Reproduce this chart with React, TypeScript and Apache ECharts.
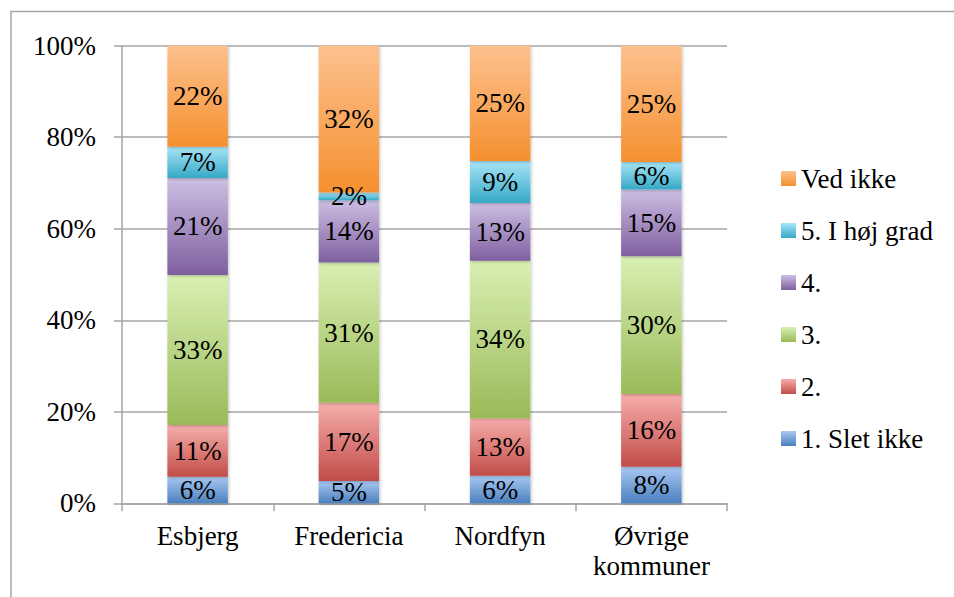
import React, { useEffect, useRef } from "react";
import * as echarts from "echarts";

const categories = ["Esbjerg", "Fredericia", "Nordfyn", "Øvrige\nkommuner"];
const seriesNames = ["1. Slet ikke", "2.", "3.", "4.", "5. I høj grad", "Ved ikke"];
const sletIkke = [5.8, 4.9, 6.0, 8.0];
const to = [11.3, 17.1, 12.6, 15.9];
const tre = [32.8, 30.6, 34.4, 30.1];
const fire = [21.2, 13.6, 12.6, 14.6];
const femHoejGrad = [6.8, 1.7, 9.2, 6.0];
const vedIkke = [22.1, 32.1, 25.2, 25.4];
const yTicks = [0, 20, 40, 60, 80, 100];
const legendOrder = ["Ved ikke", "5. I høj grad", "4.", "3.", "2.", "1. Slet ikke"];

const seriesValues = [sletIkke, to, tre, fire, femHoejGrad, vedIkke];
const gradients: [string, string][] = [
  ["#a9c8f3", "#4a80be"],
  ["#f6aeab", "#c24c48"],
  ["#d8f0b3", "#9aba58"],
  ["#cdbfe3", "#7e5f9f"],
  ["#a8e4f7", "#35a9c6"],
  ["#fdc18e", "#f5902f"],
];

const FONT = "'Liberation Serif', 'Times New Roman', serif";
const FS = 27;

export default function App() {
  const ref = useRef<HTMLDivElement>(null);
  useEffect(() => {
    if (!ref.current) return;
    const chart = echarts.init(ref.current, null, { renderer: "svg" });
    chart.setOption({
      animation: false,
      backgroundColor: "#ffffff",
      graphic: [
        {
          type: "rect",
          shape: { x: 11, y: 11.5, width: 1000, height: 1000 },
          style: { fill: "none", stroke: "#a6a6a6", lineWidth: 1.5 },
          silent: true,
        },
      ],
      grid: { left: 122, right: 227, top: 45.7, bottom: 93.7, containLabel: false },
      legend: {
        orient: "vertical",
        left: 776,
        top: 160,
        itemWidth: 15,
        itemHeight: 15,
        itemGap: 25,
        icon: "rect",
        data: legendOrder,
        textStyle: { fontFamily: FONT, fontSize: FS, color: "#000" },
      },
      xAxis: {
        type: "category",
        data: categories,
        axisLine: { lineStyle: { color: "#a6a6a6", width: 1.5 } },
        axisTick: { show: true, length: 8, lineStyle: { color: "#a6a6a6", width: 1.5 } },
        axisLabel: {
          fontFamily: FONT,
          fontSize: FS,
          color: "#000",
          margin: 18,
          lineHeight: 30,
          interval: 0,
        },
      },
      yAxis: {
        type: "value",
        min: yTicks[0],
        max: yTicks[yTicks.length - 1],
        interval: 20,
        axisLine: { show: true, lineStyle: { color: "#a6a6a6", width: 1.5 } },
        axisTick: { show: true, length: 8, lineStyle: { color: "#a6a6a6", width: 1.5 } },
        splitLine: { lineStyle: { color: "#a6a6a6", width: 1.5 } },
        axisLabel: {
          fontFamily: FONT,
          fontSize: FS,
          color: "#000",
          margin: 26,
          formatter: "{value}%",
        },
      },
      series: seriesNames.map((name, i) => ({
        name,
        type: "bar",
        stack: "total",
        barWidth: "40%",
        data: seriesValues[i],
        itemStyle: {
          color: new echarts.graphic.LinearGradient(0, 0, 0, 1, [
            { offset: 0, color: gradients[i][0] },
            { offset: 1, color: gradients[i][1] },
          ]),
          shadowBlur: 3,
          shadowColor: "rgba(0,0,0,0.25)",
          shadowOffsetX: 1,
          shadowOffsetY: 1,
        },
        label: {
          show: true,
          position: "inside",
          fontFamily: FONT,
          fontSize: FS,
          color: "#000",
          formatter: (p: any) => Math.round(p.value) + "%",
        },
      })),
    });
    return () => chart.dispose();
  }, []);
  return (
    <div
      ref={ref}
      style={{ position: "fixed", left: 0, top: 0, width: 954, height: 597 }}
    />
  );
}
